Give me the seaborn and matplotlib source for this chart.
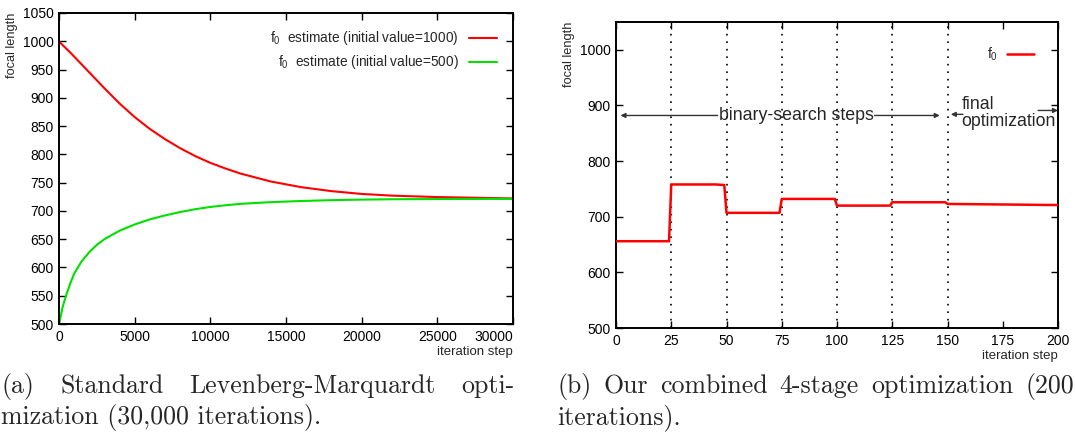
import numpy as np
import matplotlib.pyplot as plt
import seaborn as sns
import pandas as pd

# (a) standard Levenberg-Marquardt
lm_iter = [0, 250, 500, 750, 1000, 1500, 2000, 2500, 3000, 4000, 5000, 6000, 7000,
           8000, 9000, 10000, 11000, 12000, 14000, 16000, 18000, 20000, 22000,
           25000, 28000, 30000]
lm_f0_from_1000 = [1000, 993, 986.5, 980, 973, 959, 945, 931, 917, 890, 866, 845, 827,
                   811, 797, 785, 775, 766, 752, 742, 735, 730, 727,
                   724.5, 723, 722]
lm_f0_from_500 = [500, 531, 553, 572, 589, 611, 627, 640, 650, 665, 676, 685, 692,
                  698, 703, 707, 710, 712.5, 715.5, 717.5, 719, 720, 720.6,
                  721, 721.2, 721.3]

# (b) combined 4-stage optimization
b_iter = [0, 24, 25, 45, 49, 50, 74, 75, 99, 100, 124, 125, 149, 150, 175, 200]
b_f0 = [656, 656, 758, 758, 757, 707, 707, 732, 732, 720, 720, 726, 726, 723, 722, 721]
stage_bounds = [25, 50, 75, 100, 125, 150]

sns.set_style("ticks")
plt.rcParams['font.family'] = ['Liberation Sans', 'DejaVu Sans']
plt.rcParams['mathtext.fontset'] = 'custom'
plt.rcParams['mathtext.rm'] = 'Liberation Sans'
plt.rcParams['mathtext.it'] = 'Liberation Sans'
plt.rcParams['axes.linewidth'] = 1.4
plt.rcParams['axes.edgecolor'] = 'black'

W, H = 1075, 434
fig = plt.figure(figsize=(W / 100, H / 100), dpi=100)
ax1 = fig.add_axes([59 / W, 1 - 324 / H, 454 / W, 311 / H])
ax2 = fig.add_axes([616 / W, 1 - 328 / H, 442 / W, 306 / H])

df_a = pd.DataFrame({'it': lm_iter, 'r': lm_f0_from_1000, 'g': lm_f0_from_500})
sns.lineplot(data=df_a, x='it', y='r', ax=ax1, color='#ff0000', lw=1.5,
             label=r'$\mathrm{f}_{0}$  estimate (initial value=1000)')
sns.lineplot(data=df_a, x='it', y='g', ax=ax1, color='#00e000', lw=1.5,
             label=r'$\mathrm{f}_{0}$  estimate (initial value=500)')
ax1.set_xlim(0, 30000)
ax1.set_ylim(500, 1050)
ax1.set_xticks(range(0, 30001, 5000))
ax1.set_yticks(range(500, 1051, 50))
xl = ax1.get_xticklabels()
xl[-1].set_ha('right')

df_b = pd.DataFrame({'it': b_iter, 'f0': b_f0})
for b in stage_bounds:
    ax2.axvline(b, color='black', ls=(0, (1, 3.5)), lw=1.2, zorder=1)
sns.lineplot(data=df_b, x='it', y='f0', ax=ax2, color='#ff0000', lw=1.8,
             label=r'$\mathrm{f}_{0}$', zorder=3)
ax2.set_xlim(0, 200)
ax2.set_ylim(500, 1050)
ax2.set_xticks(range(0, 201, 25))
ax2.set_yticks(range(500, 1001, 100))

arrow_kw = dict(arrowstyle='-|>', color='#333333', lw=1.0, mutation_scale=7,
                shrinkA=0, shrinkB=0)
ax2.annotate('', xy=(2, 882), xytext=(46, 882), arrowprops=arrow_kw)
ax2.annotate('', xy=(146.5, 882), xytext=(117, 882), arrowprops=arrow_kw)
ax2.text(81.8, 882, 'binary-search steps', ha='center', va='center', fontsize=12.8)
ax2.annotate('', xy=(151.5, 884), xytext=(157, 884), arrowprops=arrow_kw)
ax2.annotate('', xy=(200, 891), xytext=(191, 891), arrowprops=arrow_kw)
ax2.text(156.4, 886, 'final\noptimization', ha='left', va='center', fontsize=12.8,
         linespacing=1.0)

for ax in (ax1, ax2):
    ax.tick_params(direction='in', top=True, right=True, length=5, width=1,
                   labelsize=10, pad=4, colors='black')
    ax.set_ylabel('focal length', loc='top', fontsize=9.2, labelpad=3)
    ax.set_xlabel('iteration step', loc='right', fontsize=9.5, labelpad=2)
    for s in ax.spines.values():
        s.set_visible(True)

ax1.legend(loc='upper right', frameon=False, markerfirst=False, fontsize=9.8,
           handlelength=2.0, borderaxespad=0.8, labelspacing=0.45)
ax2.legend(loc='upper right', frameon=False, markerfirst=False, fontsize=10,
           handlelength=2.0, borderaxespad=1.3, handletextpad=0.6)

# captions
cap_kw = dict(family='cmr10', fontsize=18.6, va='baseline')


def justified(words, x0, x1, ybase):
    r = fig.canvas.get_renderer()
    ts = [fig.text(0, 1 - ybase / H, w, **cap_kw) for w in words]
    ws = [t.get_window_extent(r).width for t in ts]
    gap = (x1 - x0 - sum(ws)) / (len(words) - 1)
    x = x0
    for t, w in zip(ts, ws):
        t.set_x(x / W)
        x += w + gap


justified(['(a)', 'Standard', 'Levenberg-Marquardt', 'opti-'], 1, 515, 393)
fig.text(1 / W, 1 - 424 / H, 'mization (30,000 iterations).', **cap_kw)
justified(['(b)', 'Our', 'combined', '4-stage', 'optimization', '(200'], 557, 1074, 393)
fig.text(557 / W, 1 - 424 / H, 'iterations).', **cap_kw)

fig.savefig('out.png', dpi=100)
